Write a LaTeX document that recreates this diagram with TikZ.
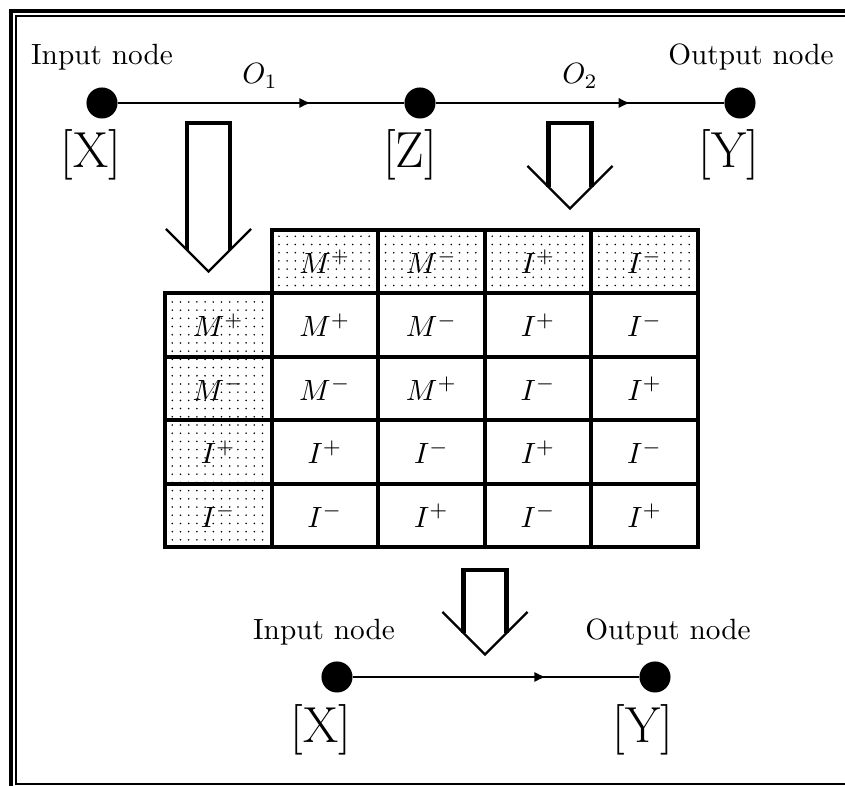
\documentclass[tikz,border=0pt]{standalone}
\usetikzlibrary{patterns.meta,arrows.meta,decorations.markings}
\begin{document}
\begin{tikzpicture}[x=0.3413pt,y=-0.3413pt,
  dotnode/.style={circle,fill=black,inner sep=0pt,minimum size=10.6pt},
  lbl/.style={inner sep=0pt,font=\normalsize},
  big/.style={inner sep=0pt,font=\LARGE},
  conn/.style={line width=1pt,postaction={decorate},
    decoration={markings,mark=at position 0.675 with {\arrow{Latex[length=4pt,width=3.6pt]}}}},
  cell/.style={draw,line width=1.36pt,minimum width=36.38pt,minimum height=21.67pt,inner sep=0pt},
  hcell/.style={cell,pattern={Dots[distance=2.8pt,radius=0.3pt]}},
  shaft/.style={line width=1.4pt,line join=miter},
  vhead/.style={line width=0.75pt},
  outerframe/.style={line width=1.45pt},
  innerframe/.style={line width=0.85pt},
]
\useasboundingbox (0,0) rectangle (845,786);
\clip (0,0) rectangle (845,786);
% frame
\draw[outerframe] (11,820) -- (11,11) -- (880,11);
\draw[innerframe] (880,16) -- (16,16) -- (16,784) -- (880,784);

% top row
\node[dotnode] (X1) at (102,103) {};
\node[dotnode] (Z1) at (420,103) {};
\node[dotnode] (Y1) at (740,103) {};
\draw[conn] (X1) -- (Z1);
\draw[conn] (Z1) -- (Y1);
\node[lbl,anchor=base] (inTop) at (102,65) {Input node};
\node[lbl,anchor=base] (outTop) at (751,65) {Output node};
\node[lbl] (o1) at (260,76) {$O_1$};
\node[lbl] (o2) at (580,76) {$O_2$};
\node[big] (xTop) at (91,155) {[X]};
\node[big] (zTop) at (410,155) {[Z]};
\node[big] (yTop) at (729,155) {[Y]};

% block arrows
\draw[shaft] (187,250) -- (187,123) -- (230,123) -- (230,250);
\draw[vhead] (166,229) -- (208.5,271.5) -- (251,229);
\draw[shaft] (548.5,187) -- (548.5,123) -- (591.5,123) -- (591.5,187);
\draw[vhead] (527.5,166) -- (570,208.5) -- (612.5,166);
\draw[shaft] (463.5,633) -- (463.5,570) -- (506.5,570) -- (506.5,633);
\draw[vhead] (442.5,612) -- (485,654.5) -- (527.5,612);

% table header
\node[hcell] (h1) at (324.9,261.75) {$M^{+}$};
\node[hcell] (h2) at (431.5,261.75) {$M^{-}$};
\node[hcell] (h3) at (538.1,261.75) {$I^{+}$};
\node[hcell] (h4) at (644.7,261.75) {$I^{-}$};
% row headers
\node[hcell] (r1) at (218.3,325.25) {$M^{+}$};
\node[hcell] (r2) at (218.3,388.75) {$M^{-}$};
\node[hcell] (r3) at (218.3,452.25) {$I^{+}$};
\node[hcell] (r4) at (218.3,515.75) {$I^{-}$};
% body
\node[cell] (c11) at (324.9,325.25) {$M^{+}$};
\node[cell] (c12) at (431.5,325.25) {$M^{-}$};
\node[cell] (c13) at (538.1,325.25) {$I^{+}$};
\node[cell] (c14) at (644.7,325.25) {$I^{-}$};
\node[cell] (c21) at (324.9,388.75) {$M^{-}$};
\node[cell] (c22) at (431.5,388.75) {$M^{+}$};
\node[cell] (c23) at (538.1,388.75) {$I^{-}$};
\node[cell] (c24) at (644.7,388.75) {$I^{+}$};
\node[cell] (c31) at (324.9,452.25) {$I^{+}$};
\node[cell] (c32) at (431.5,452.25) {$I^{-}$};
\node[cell] (c33) at (538.1,452.25) {$I^{+}$};
\node[cell] (c34) at (644.7,452.25) {$I^{-}$};
\node[cell] (c41) at (324.9,515.75) {$I^{-}$};
\node[cell] (c42) at (431.5,515.75) {$I^{+}$};
\node[cell] (c43) at (538.1,515.75) {$I^{-}$};
\node[cell] (c44) at (644.7,515.75) {$I^{+}$};

% bottom row
\node[dotnode] (X2) at (337,677) {};
\node[dotnode] (Y2) at (655,677) {};
\draw[conn] (X2) -- (Y2);
\node[lbl,anchor=base] (inBot) at (324,640) {Input node};
\node[lbl,anchor=base] (outBot) at (668,640) {Output node};
\node[big] (xBot) at (321,729.5) {[X]};
\node[big] (yBot) at (643,729.5) {[Y]};
\end{tikzpicture}
\end{document}
